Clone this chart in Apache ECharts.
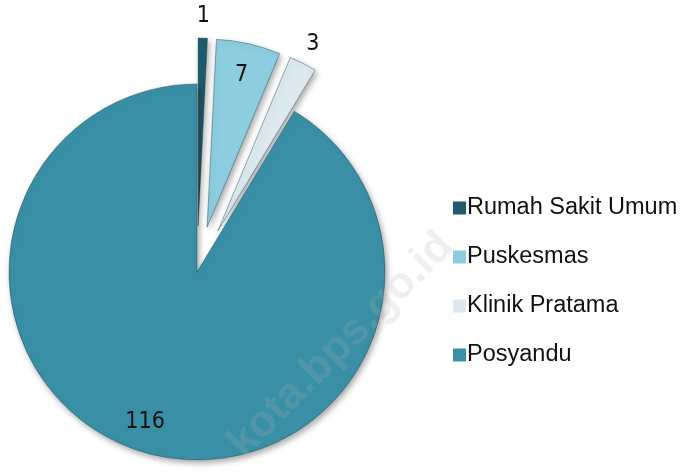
<!DOCTYPE html>
<html>
<head>
<meta charset="utf-8">
<script src="https://cdn.jsdelivr.net/npm/echarts@6/dist/echarts.min.js"></script>
<style>
html, body { margin: 0; padding: 0; background: #fff; }
#chart { width: 682px; height: 472px; }
</style>
</head>
<body>
<div id="chart"></div>
<script>
var categories = ['Rumah Sakit Umum', 'Puskesmas', 'Klinik Pratama', 'Posyandu'];
var values = [1, 7, 3, 116];
var colors = ['#1f5d6c', '#8ccee0', '#dceaef', '#3990a6'];
var exploded = [true, true, true, false];
// which label ring each value sits on
var labelRing = ['outer', 'inner', 'outer', 'inner'];
// small nudges of the value labels
var labelPad = [0, 0, 0, [0, 20, 0, 0]];

var myChart = echarts.init(document.getElementById('chart'));

var center = [197, 272];

function mkData(ring) {
    return categories.map(function (c, i) {
        var d = { name: c, value: values[i], selected: exploded[i] };
        if (ring) {
            d.label = { show: labelRing[i] === ring, padding: labelPad[i] };
        } else {
            d.itemStyle = { color: colors[i] };
        }
        return d;
    });
}

var labelStyle = {
    position: 'inside',
    formatter: '{c}',
    fontFamily: "'DejaVu Sans Condensed', 'Liberation Sans', sans-serif",
    fontSize: 23,
    color: '#111'
};

option = {
    animation: false,
    color: colors,
    legend: {
        orient: 'vertical',
        left: 448,
        top: 191,
        icon: 'rect',
        itemWidth: 13,
        itemHeight: 13,
        itemGap: 25,
        selectedMode: false,
        itemStyle: { borderWidth: 0 },
        textStyle: {
            fontFamily: 'Liberation Sans',
            fontSize: 23.5,
            color: '#111',
            padding: [0, 0, 0, -4]
        },
        data: categories
    },
    graphic: [{
        type: 'text',
        left: 220,
        top: 224,
        z: 100,
        rotation: Math.PI / 4,
        silent: true,
        style: {
            text: 'kota.bps.go.id',
            fontFamily: 'Liberation Sans',
            fontWeight: 'bold',
            fontSize: 44,
            fill: 'rgba(175,175,175,0.2)'
        }
    }],
    series: [{
        name: 'Fasilitas',
        type: 'pie',
        center: center,
        radius: 188,
        startAngle: 90,
        selectedMode: 'multiple',
        selectedOffset: 46,
        label: { show: false },
        labelLine: { show: false },
        emphasis: { disabled: true },
        itemStyle: {
            borderColor: 'rgba(20,60,70,0.4)',
            borderWidth: 1,
            shadowBlur: 6,
            shadowOffsetX: 2,
            shadowOffsetY: 3,
            shadowColor: 'rgba(0,0,0,0.35)'
        },
        data: mkData(null)
    }, {
        name: 'label-inner',
        type: 'pie',
        center: center,
        radius: [0, 306],
        startAngle: 90,
        silent: true,
        selectedMode: 'multiple',
        selectedOffset: 46,
        itemStyle: { color: 'rgba(0,0,0,0)' },
        emphasis: { disabled: true },
        labelLine: { show: false },
        label: labelStyle,
        data: mkData('inner')
    }, {
        name: 'label-outer',
        type: 'pie',
        center: center,
        radius: [0, 414],
        startAngle: 90,
        silent: true,
        selectedMode: 'multiple',
        selectedOffset: 46,
        itemStyle: { color: 'rgba(0,0,0,0)' },
        emphasis: { disabled: true },
        labelLine: { show: false },
        label: labelStyle,
        data: mkData('outer')
    }]
};
myChart.setOption(option);
</script>
</body>
</html>
